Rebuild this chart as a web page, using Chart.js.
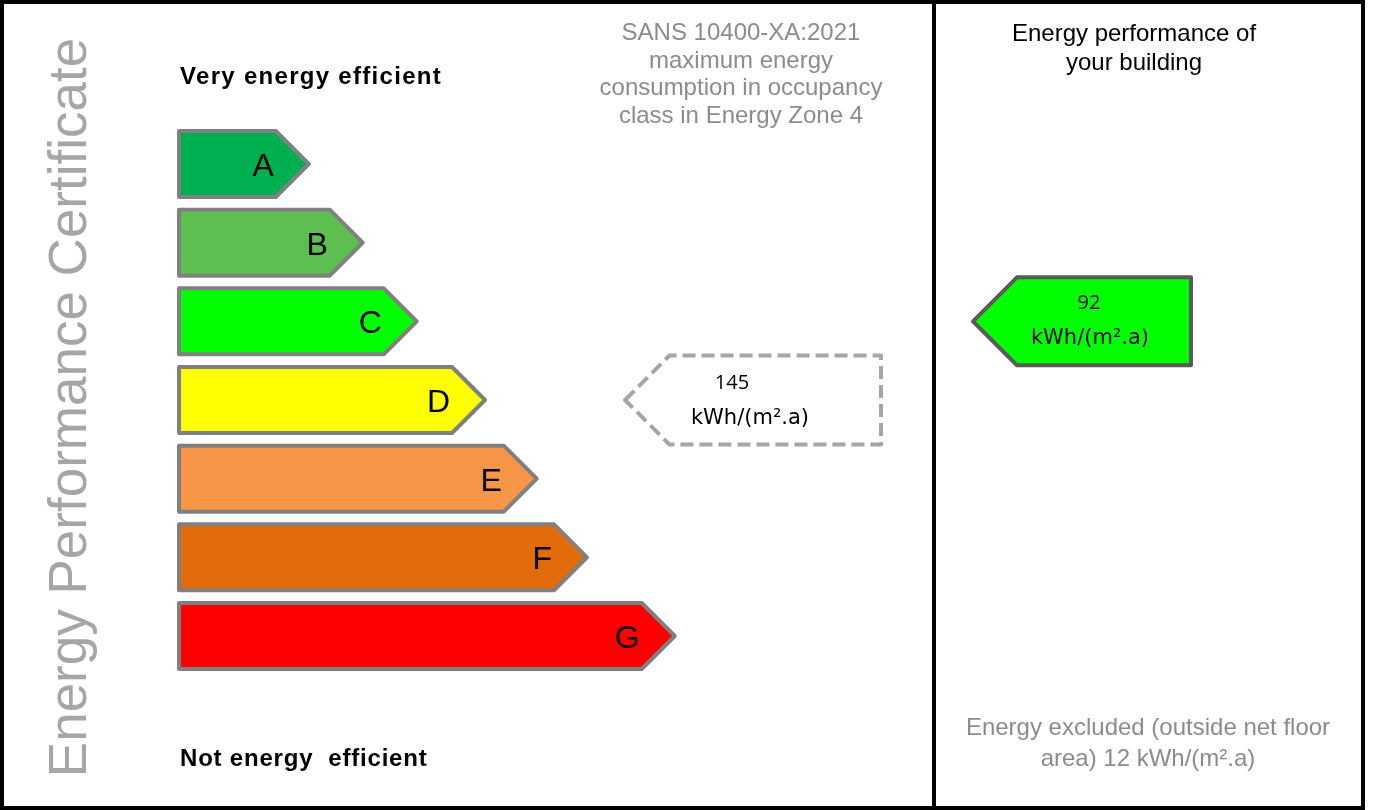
<!DOCTYPE html>
<html>
<head>
<meta charset="utf-8">
<script src="https://cdn.jsdelivr.net/npm/chart.js@4.4.0/dist/chart.umd.min.js"></script>
<style>
html, body { margin: 0; background: #fff; }
#wrap { width: 1374px; height: 810px; }
</style>
</head>
<body>
<div id="wrap"><canvas id="epcChart"></canvas></div>
<script>
// rating bands, top (best) to bottom (worst)
const bands = ['A', 'B', 'C', 'D', 'E', 'F', 'G'];
const bandLengths = [17.3, 24.5, 31.7, 40.8, 47.7, 54.4, 66.1];
const bandColors = ['#00B050', '#5CBF4F', '#00FF00', '#FFFF00', '#F79646', '#E36C0A', '#FF0000'];

// SANS limit and the building's own result
const maxConsumption = 145;
const maxBand = 'D';
const buildingConsumption = 92;
const buildingBand = 'C';
const excludedEnergy = 12;

const unit = 'kWh/(m\u00B2.a)';

function leftArrow(ctx, tip, yc, right, half) {
    ctx.beginPath();
    ctx.moveTo(tip, yc);
    ctx.lineTo(tip + half, yc - half);
    ctx.lineTo(right, yc - half);
    ctx.lineTo(right, yc + half);
    ctx.lineTo(tip + half, yc + half);
    ctx.closePath();
}

const epcPlugin = {
    id: 'epc',
    beforeDraw(chart) {
        const ctx = chart.ctx;
        ctx.save();
        ctx.fillStyle = '#fff';
        ctx.fillRect(0, 0, chart.width, chart.height);

        // frame + divider
        ctx.strokeStyle = '#000';
        ctx.lineWidth = 4;
        ctx.strokeRect(2, 2, 1361, 806);
        ctx.beginPath();
        ctx.moveTo(934, 2);
        ctx.lineTo(934, 808);
        ctx.stroke();

        // vertical title
        ctx.save();
        ctx.translate(86, 407.5);
        ctx.rotate(-Math.PI / 2);
        ctx.fillStyle = '#A6A6A6';
        ctx.font = '53px "Liberation Sans", Arial, sans-serif';
        ctx.textAlign = 'center';
        ctx.textBaseline = 'alphabetic';
        ctx.fillText('Energy Performance Certificate', 0, 0);
        ctx.restore();

        ctx.fillStyle = '#000';
        ctx.font = 'bold 24px "Liberation Sans", Arial, sans-serif';
        ctx.textAlign = 'left';
        ctx.textBaseline = 'alphabetic';
        ctx.letterSpacing = '1.3px';
        ctx.fillText('Very energy efficient', 180, 84);
        ctx.letterSpacing = '0.8px';
        ctx.fillText('Not energy  efficient', 180, 766);
        ctx.letterSpacing = '0px';

        ctx.fillStyle = '#8C8C8C';
        ctx.font = '24px "Liberation Sans", Arial, sans-serif';
        ctx.textAlign = 'center';
        const head = ['SANS 10400-XA:2021', 'maximum energy', 'consumption in occupancy', 'class in Energy Zone 4'];
        head.forEach((t, i) => ctx.fillText(t, 741, 40 + i * 27.7));

        ctx.fillStyle = '#000';
        ctx.font = '24px "Liberation Sans", Arial, sans-serif';
        ctx.fillText('Energy performance of', 1134, 41);
        ctx.fillText('your building', 1134, 70);

        ctx.fillStyle = '#8C8C8C';
        ctx.font = '24px "Liberation Sans", Arial, sans-serif';
        ctx.fillText('Energy excluded (outside net floor', 1148, 735);
        ctx.fillText('area) ' + excludedEnergy + ' ' + unit, 1148, 766);
        ctx.restore();
    },
    afterDatasetsDraw(chart) {
        const ctx = chart.ctx;
        const meta = chart.getDatasetMeta(0);
        const yScale = chart.scales.y;
        ctx.save();
        ctx.lineJoin = 'round';

        meta.data.forEach((el, i) => {
            const half = el.height / 2;
            const top = el.y - half, bottom = el.y + half;
            const left = el.base;
            ctx.beginPath();
            ctx.moveTo(left, top);
            ctx.lineTo(el.x - half, top);
            ctx.lineTo(el.x, el.y);
            ctx.lineTo(el.x - half, bottom);
            ctx.lineTo(left, bottom);
            ctx.closePath();
            ctx.fillStyle = bandColors[i];
            ctx.fill();
            ctx.strokeStyle = '#808080';
            ctx.lineWidth = 4;
            ctx.stroke();

            ctx.fillStyle = '#000';
            ctx.font = '32px "Liberation Sans", Arial, sans-serif';
            ctx.textAlign = 'right';
            ctx.textBaseline = 'alphabetic';
            ctx.fillText(bands[i], el.x - half - 2, el.y + 12);
        });

        // SANS maximum (dashed outline)
        const yMax = yScale.getPixelForValue(bands.indexOf(maxBand));
        leftArrow(ctx, 625, yMax, 881, 44.5);
        ctx.setLineDash([13, 6]);
        ctx.strokeStyle = '#A6A6A6';
        ctx.lineWidth = 4;
        ctx.stroke();
        ctx.setLineDash([]);

        ctx.fillStyle = '#000';
        ctx.textAlign = 'center';
        ctx.font = '20px "Open Sans", sans-serif';
        ctx.fillText(String(maxConsumption), 732, yMax - 11);
        ctx.font = '21px "DejaVu Sans", sans-serif';
        ctx.fillText(unit, 750, yMax + 24);

        // building result
        const yB = yScale.getPixelForValue(bands.indexOf(buildingBand));
        leftArrow(ctx, 973, yB, 1191, 44);
        ctx.fillStyle = bandColors[bands.indexOf(buildingBand)];
        ctx.fill();
        ctx.strokeStyle = '#5A5A5A';
        ctx.lineWidth = 4;
        ctx.stroke();

        ctx.fillStyle = '#000';
        ctx.font = '20px "Open Sans", sans-serif';
        ctx.fillText(String(buildingConsumption), 1089, yB - 12);
        ctx.font = '21px "DejaVu Sans", sans-serif';
        ctx.fillText(unit, 1090, yB + 23);
        ctx.restore();
    }
};

new Chart(document.getElementById('epcChart'), {
    type: 'bar',
    data: {
        labels: bands,
        datasets: [{
            data: bandLengths,
            backgroundColor: 'rgba(0,0,0,0)',
            borderWidth: 0,
            barThickness: 66
        }]
    },
    options: {
        indexAxis: 'y',
        responsive: true,
        maintainAspectRatio: false,
        animation: false,
        layout: {
            padding: { left: 179, right: 445, top: 124.67, bottom: 134.67 }
        },
        scales: {
            x: { display: false, min: 0, max: 100 },
            y: { display: false }
        },
        plugins: {
            legend: { display: false },
            tooltip: { enabled: false }
        }
    },
    plugins: [epcPlugin]
});
</script>
</body>
</html>
